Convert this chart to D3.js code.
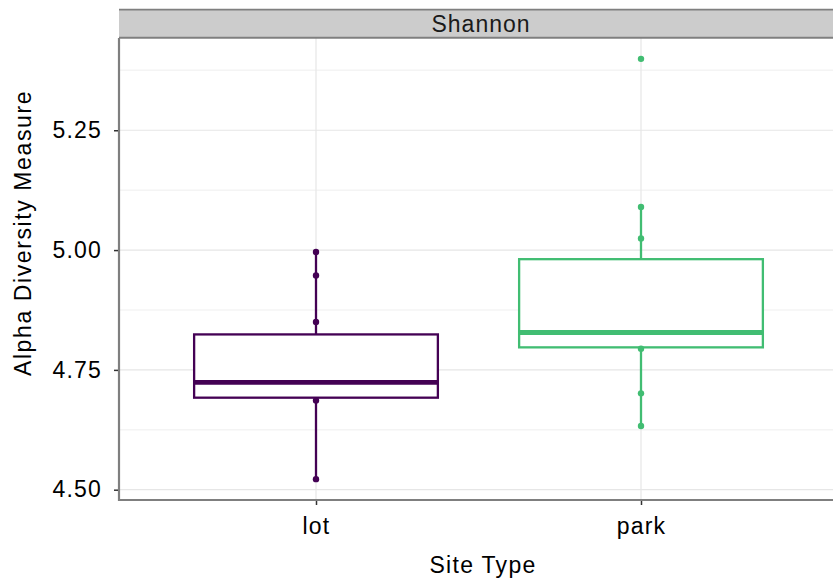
<!DOCTYPE html>
<html>
<head>
<meta charset="utf-8">
<script src="https://cdn.jsdelivr.net/npm/d3@7"></script>
<style>
  html, body { margin: 0; padding: 0; background: #fff; }
  svg text { font-family: 'Liberation Sans', Arial, Helvetica, sans-serif; }
</style>
</head>
<body>
<div id="chart"></div>
<script>
// data
let sites = ['lot', 'park'];
let colors = ['#440154', '#41bd72'];
let lotPoints = [4.996, 4.947, 4.850, 4.686, 4.522];
let parkPoints = [5.399, 5.090, 5.024, 4.794, 4.701, 4.633];
let whiskerLow = [4.522, 4.633];
let boxQ1 = [4.692, 4.797];
let boxMedian = [4.724, 4.828];
let boxQ3 = [4.824, 4.981];
let whiskerHigh = [4.996, 5.090];
let yTicks = [4.50, 4.75, 5.00, 5.25];
let yMinor = [4.625, 4.875, 5.125, 5.375];
let facetLabel = 'Shannon';

let width = 833;
let height = 582;
let panel = { left: 119, right: 836, top: 38, bottom: 500 };

let svg = d3.select('#chart').append('svg')
            .attr('width', width)
            .attr('height', height);

let xScale = d3.scalePoint()
               .domain(sites)
               .range([121, 836])
               .padding(0.6);
let step = xScale.step();
let boxW = step * 0.75;

let yScale = d3.scaleLinear()
               .domain([4.4785, 5.4425])
               .range([panel.bottom, panel.top]);

// panel background + grid
svg.append('rect')
   .attr('x', panel.left)
   .attr('y', panel.top)
   .attr('width', panel.right - panel.left)
   .attr('height', panel.bottom - panel.top)
   .style('fill', '#fff');

svg.selectAll('.minor')
   .data(yMinor)
   .enter()
   .append('line')
   .attr('class', 'minor')
   .attr('x1', panel.left).attr('x2', panel.right)
   .attr('y1', v => yScale(v)).attr('y2', v => yScale(v))
   .style('stroke', '#f4f4f4')
   .style('stroke-width', 1.5);

svg.selectAll('.major')
   .data(yTicks)
   .enter()
   .append('line')
   .attr('class', 'major')
   .attr('x1', panel.left).attr('x2', panel.right)
   .attr('y1', v => yScale(v)).attr('y2', v => yScale(v))
   .style('stroke', '#e6e6e6')
   .style('stroke-width', 1.2);

svg.selectAll('.vmajor')
   .data(sites)
   .enter()
   .append('line')
   .attr('class', 'vmajor')
   .attr('x1', v => xScale(v)).attr('x2', v => xScale(v))
   .attr('y1', panel.top).attr('y2', panel.bottom)
   .style('stroke', '#e6e6e6')
   .style('stroke-width', 1.2);

// boxes
let boxes = svg.selectAll('.box')
               .data(sites)
               .enter()
               .append('g')
               .attr('class', 'box');

boxes.append('line')
     .attr('x1', v => xScale(v)).attr('x2', v => xScale(v))
     .attr('y1', (v, i) => yScale(boxQ3[i]))
     .attr('y2', (v, i) => yScale(whiskerHigh[i]))
     .style('stroke', (v, i) => colors[i])
     .style('stroke-width', 2.3);

boxes.append('line')
     .attr('x1', v => xScale(v)).attr('x2', v => xScale(v))
     .attr('y1', (v, i) => yScale(boxQ1[i]))
     .attr('y2', (v, i) => yScale(whiskerLow[i]))
     .style('stroke', (v, i) => colors[i])
     .style('stroke-width', 2.3);

boxes.append('rect')
     .attr('x', v => xScale(v) - boxW / 2)
     .attr('width', boxW)
     .attr('y', (v, i) => yScale(boxQ3[i]))
     .attr('height', (v, i) => yScale(boxQ1[i]) - yScale(boxQ3[i]))
     .style('fill', '#fff')
     .style('stroke', (v, i) => colors[i])
     .style('stroke-width', 2.3);

boxes.append('line')
     .attr('x1', v => xScale(v) - boxW / 2).attr('x2', v => xScale(v) + boxW / 2)
     .attr('y1', (v, i) => yScale(boxMedian[i]))
     .attr('y2', (v, i) => yScale(boxMedian[i]))
     .style('stroke', (v, i) => colors[i])
     .style('stroke-width', 4.8);

// points
let pointSets = [lotPoints, parkPoints];
pointSets.forEach((pts, i) => {
  svg.selectAll('.pt' + i)
     .data(pts)
     .enter()
     .append('circle')
     .attr('class', 'pt' + i)
     .attr('cx', xScale(sites[i]))
     .attr('cy', v => yScale(v))
     .attr('r', 3.2)
     .style('fill', colors[i]);
});

// panel border (left + bottom)
svg.append('path')
   .attr('d', `M${panel.left},${panel.top} V${panel.bottom} H${panel.right}`)
   .style('fill', 'none')
   .style('stroke', '#7f7f7f')
   .style('stroke-width', 2.2);

// strip
svg.append('rect')
   .attr('x', panel.left)
   .attr('y', 9.5)
   .attr('width', panel.right - panel.left)
   .attr('height', 28.5)
   .style('fill', '#cccccc');
svg.append('line')
   .attr('x1', panel.left).attr('x2', panel.right)
   .attr('y1', 9.6).attr('y2', 9.6)
   .style('stroke', '#7f7f7f')
   .style('stroke-width', 1.6);
svg.append('line')
   .attr('x1', panel.left).attr('x2', panel.right)
   .attr('y1', 37.8).attr('y2', 37.8)
   .style('stroke', '#7f7f7f')
   .style('stroke-width', 2);
svg.append('text')
   .attr('x', 481)
   .attr('y', 32)
   .attr('text-anchor', 'middle')
   .style('font-size', '23px')
   .style('letter-spacing', '1px')
   .style('fill', '#1a1a1a')
   .text(facetLabel);

// y axis
svg.append('g')
   .attr('class', 'yaxis')
   .attr('transform', `translate(${panel.left - 1}, 0)`)
   .call(d3.axisLeft(yScale)
           .tickValues(yTicks)
           .tickSize(4)
           .tickPadding(12)
           .tickFormat(d3.format('.2f')))
   .call(g => g.select('.domain').remove())
   .call(g => g.selectAll('line').style('stroke', '#333').style('stroke-width', 1.5))
   .call(g => g.selectAll('text')
               .attr('dy', '0.31em')
               .style('font-size', '23px')
               .style('letter-spacing', '1.2px')
               .style('font-family', "'Liberation Sans', Arial, sans-serif")
               .style('fill', '#000'));

// x axis
svg.append('g')
   .attr('class', 'xaxis')
   .attr('transform', `translate(0, ${panel.bottom + 1})`)
   .call(d3.axisBottom(xScale)
           .tickSize(4)
           .tickPadding(13))
   .call(g => g.select('.domain').remove())
   .call(g => g.selectAll('line').style('stroke', '#333').style('stroke-width', 1.5))
   .call(g => g.selectAll('text')
               .attr('dy', '0.71em')
               .style('font-size', '23px')
               .style('letter-spacing', '1.2px')
               .style('font-family', "'Liberation Sans', Arial, sans-serif")
               .style('fill', '#000'));

// axis titles
svg.append('text')
   .attr('x', 483)
   .attr('y', 573)
   .attr('text-anchor', 'middle')
   .style('font-size', '23px')
   .style('letter-spacing', '1.3px')
   .style('fill', '#000')
   .text('Site Type');

svg.append('text')
   .attr('transform', 'translate(31, 233) rotate(-90)')
   .attr('text-anchor', 'middle')
   .style('font-size', '23px')
   .style('letter-spacing', '1.6px')
   .style('fill', '#000')
   .text('Alpha Diversity Measure');
</script>
</body>
</html>
